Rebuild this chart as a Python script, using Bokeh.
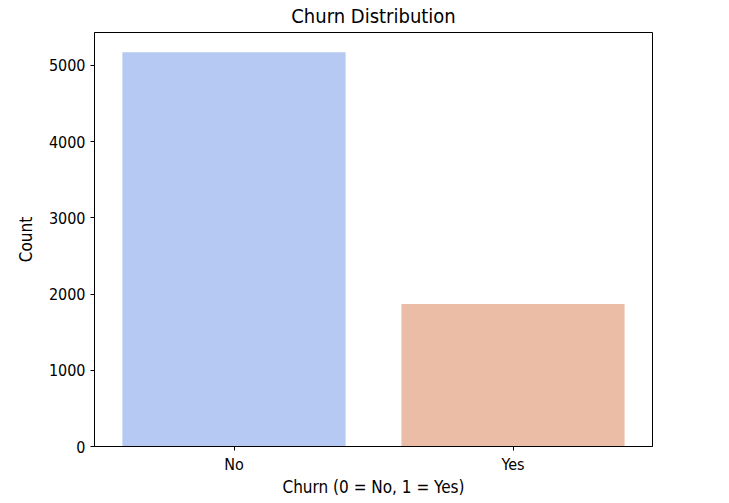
from bokeh.plotting import figure
from bokeh.models import FactorRange, Range1d, FixedTicker, ColumnDataSource
from bokeh.embed import file_html
from bokeh.resources import INLINE

categories = ["No", "Yes"]
counts = [5174, 1869]
colors = ["#b5c9f2", "#ebbca6"]
y_ticks = [0, 1000, 2000, 3000, 4000, 5000]

FONT = "DejaVu Sans Condensed, DejaVu Sans"

src = ColumnDataSource(dict(cat=categories, count=counts, color=colors))

p = figure(width=725, height=500, x_range=FactorRange(*categories, range_padding=0),
           y_range=Range1d(0, max(counts) * 1.05),
           output_backend="svg", toolbar_location=None,
           title="Churn Distribution",
           min_border_left=94, min_border_right=73, min_border_top=31, min_border_bottom=54)

p.vbar(x="cat", top="count", width=0.8, fill_color="color", line_color=None, source=src)

p.title.align = "center"
p.title.vertical_align = "top"
p.title.text_font = FONT
p.title.text_font_size = "20px"
p.title.text_font_style = "normal"
p.title.text_color = "black"
p.title.text_line_height = 1.0
p.title.offset = 0
p.title.standoff = 6

p.xgrid.visible = False
p.ygrid.visible = False
p.outline_line_color = "black"
p.outline_line_alpha = 1
p.outline_line_width = 1

for ax in (p.xaxis[0], p.yaxis[0]):
    ax.axis_line_color = "black"
    ax.major_tick_line_color = "black"
    ax.major_tick_out = 4
    ax.major_tick_in = 0
    ax.minor_tick_line_color = None
    ax.major_label_text_font = FONT
    ax.major_label_text_font_size = "16px"
    ax.major_label_text_color = "black"
    ax.axis_label_text_font = FONT
    ax.axis_label_text_font_size = "17px"
    ax.axis_label_text_font_style = "normal"
    ax.axis_label_text_color = "black"

p.yaxis.ticker = FixedTicker(ticks=y_ticks)
p.xaxis.axis_label = "Churn (0 = No, 1 = Yes)"
p.yaxis.axis_label = "Count"
p.xaxis.major_label_standoff = 4
p.yaxis.major_label_standoff = 5
p.xaxis.axis_label_standoff = 0
p.yaxis.axis_label_standoff = 10

open("out.html", "w").write(file_html(p, INLINE))
